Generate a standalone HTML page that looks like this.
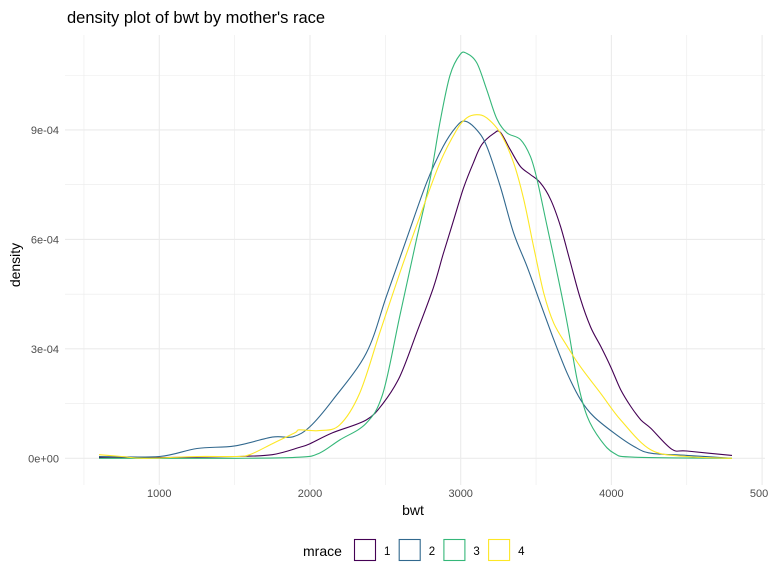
<!DOCTYPE html>
<html><head><meta charset="utf-8"><style>
body{margin:0;background:#fff;}
svg text{font-family:"Liberation Sans",sans-serif;}
</style></head><body>
<svg id="chart" width="768" height="576" xmlns="http://www.w3.org/2000/svg">
<rect width="768" height="576" fill="#fff"/>
<g id="grid"></g>
<g id="curves"></g>
<g id="axes"></g>
<text x="67" y="23" font-size="16.5" fill="#000">density plot of bwt by mother's race</text>
<text x="413" y="515" font-size="14" text-anchor="middle" fill="#000">bwt</text>
<text transform="translate(20,265) rotate(-90)" font-size="14" text-anchor="middle" fill="#000">density</text>
<g id="legend">
<text x="303" y="556" font-size="14" fill="#000">mrace</text>
</g>
</svg>
<script>
const categories = ["1","2","3","4"];
const colors = ["#440154","#31688E","#35B779","#FDE725"];
const xTicks = [1000,2000,3000,4000,5000];
const yTicks = [0,3e-4,6e-4,9e-4];
const yTickLabels = ["0e+00","3e-04","6e-04","9e-04"];
// density values in units of 1e-4
const bwtGrid1 = [600,1000,1500,1750,1930,2000,2150,2373,2484,2596,2707,2818,2884,2951,3018,3084,3140,3218,3262,3329,3396,3462,3529,3596,3662,3729,3796,3862,3929,3996,4062,4129,4196,4262,4400,4500,4800];
const dens1 =    [0.02,0.02,0.05,0.1,0.3,0.4,0.7,1.05,1.5,2.24,3.43,4.67,5.6,6.5,7.4,8.1,8.6,8.9,8.94,8.46,8.0,7.78,7.55,7.1,6.36,5.35,4.35,3.6,3.07,2.5,1.88,1.42,1.05,0.82,0.25,0.2,0.08];
const bwtGrid2 = [600,1000,1250,1500,1750,1887,2000,2151,2373,2507,2640,2773,2884,2973,3029,3107,3173,3262,3351,3440,3529,3618,3707,3796,3884,4018,4151,4262,4500,4800];
const dens2 =    [0.05,0.05,0.27,0.34,0.58,0.59,0.87,1.6,2.88,4.44,6.0,7.55,8.55,9.1,9.24,9.0,8.55,7.46,6.18,5.26,4.25,3.25,2.33,1.6,1.14,0.69,0.32,0.14,0.08,0.0];
const bwtGrid3 = [600,1500,1929,2062,2196,2373,2484,2596,2707,2796,2862,2929,2996,3040,3107,3173,3240,3307,3396,3462,3507,3573,3640,3707,3773,3840,3929,4018,4151,4800];
const dens3 =    [0,0,0.03,0.14,0.5,0.96,1.78,3.9,6.0,7.64,9.2,10.5,11.07,11.1,10.84,10.1,9.3,8.92,8.74,8.28,7.64,6.36,5.08,3.7,2.15,1.14,0.5,0.14,0.03,0];
const bwtGrid4 = [600,750,900,1250,1500,1600,1750,1900,1929,2062,2196,2329,2462,2596,2729,2862,2973,3040,3107,3173,3262,3351,3418,3484,3551,3618,3707,3796,3929,4062,4262,4500,4800];
const dens4 =    [0.1,0.05,0,0.05,0.05,0.1,0.4,0.7,0.78,0.76,0.91,1.78,3.43,5.08,6.63,8.1,9.0,9.33,9.42,9.33,8.92,8.1,7.1,5.8,4.53,3.7,3.07,2.5,1.78,1.05,0.23,0.05,0];

const NS="http://www.w3.org/2000/svg";
function xS(v){return 159.3+(v-1000)*0.1507;}
function yS(d){return 458.3-d*364800;}
function mk(tag,attrs,parent){const e=document.createElementNS(NS,tag);for(const k in attrs)e.setAttribute(k,attrs[k]);parent.appendChild(e);return e;}
const grid=document.getElementById('grid'),axes=document.getElementById('axes'),curves=document.getElementById('curves'),legend=document.getElementById('legend');
const L=65,R=765,T=35,B=485;
for(let i=0;i<xTicks.length;i++){
  const v=xTicks[i]-500; const x=xS(v);
  if(x>L&&x<R){const g=mk('line',{x1:x,x2:x,y1:T,y2:B,stroke:'#ebebeb','stroke-width':0.6},grid);
  
  }
}
for(let i=0;i<yTicks.length;i++){
  const y=yS(yTicks[i]+1.5e-4);
  if(y>T){const g=mk('line',{x1:L,x2:R,y1:y,y2:y,stroke:'#ebebeb','stroke-width':0.6},grid);
  
  }
}
for(let i=0;i<xTicks.length;i++){
  const x=xS(xTicks[i]);
  if(x<R){const g=mk('line',{x1:x,x2:x,y1:T,y2:B,stroke:'#ebebeb','stroke-width':1.1},grid);
  
  }
  const t=mk('text',{x:x,y:497,'font-size':11,'text-anchor':'middle',fill:'#4d4d4d'},axes);
  t.textContent=xTicks[i];
  
  
}
for(let i=0;i<yTicks.length;i++){
  const y=yS(yTicks[i]);
  const g=mk('line',{x1:L,x2:R,y1:y,y2:y,stroke:'#ebebeb','stroke-width':1.1},grid);
  
  
  const t=mk('text',{x:59,y:y+4,'font-size':11,'text-anchor':'end',fill:'#4d4d4d'},axes);
  t.textContent=yTickLabels[i];
  
  
}
function pathFor(xs,ds){
  const p=xs.map((v,i)=>[xS(v),yS(ds[i]*1e-4)]);
  let d='M'+p[0][0].toFixed(1)+','+p[0][1].toFixed(1);
  for(let i=0;i<p.length-1;i++){
    const p0=p[Math.max(0,i-1)],p1=p[i],p2=p[i+1],p3=p[Math.min(p.length-1,i+2)];
    const c1=[p1[0]+(p2[0]-p0[0])/6,p1[1]+(p2[1]-p0[1])/6];
    const c2=[p2[0]-(p3[0]-p1[0])/6,p2[1]-(p3[1]-p1[1])/6];
    d+='C'+c1[0].toFixed(1)+','+c1[1].toFixed(1)+' '+c2[0].toFixed(1)+','+c2[1].toFixed(1)+' '+p2[0].toFixed(1)+','+p2[1].toFixed(1);
  }
  return d;
}
const series=[[bwtGrid1,dens1],[bwtGrid2,dens2],[bwtGrid3,dens3],[bwtGrid4,dens4]];
for(let i=0;i<series.length;i++){
  const c=mk('path',{d:pathFor(series[i][0],series[i][1]),fill:'none',stroke:colors[i],'stroke-width':1.1},curves);
  
  
}
for(let i=0;i<categories.length;i++){
  const x=354+i*44.7;
  const k=mk('rect',{x:x+0.5,y:539.5,width:21,height:21,fill:'#fff',stroke:colors[i],'stroke-width':1.1},legend);
  
  
  const t=mk('text',{x:x+30,y:555,'font-size':11.5,fill:'#000'},legend);
  t.textContent=categories[i];
  
  
}
</script>
</body></html>
